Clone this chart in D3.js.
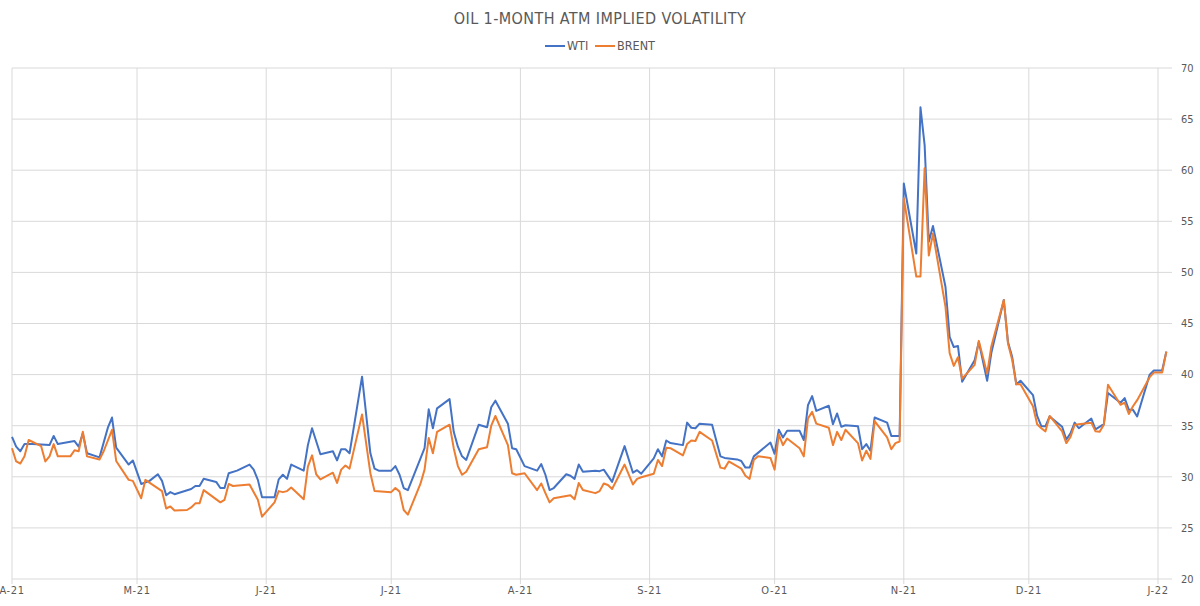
<!DOCTYPE html>
<html lang="en">
<head>
<meta charset="UTF-8">
<title>Oil 1-Month ATM Implied Volatility</title>
<script src="https://d3js.org/d3.v7.min.js"></script>
<style>
    body {
        margin: 0;
        background: #ffffff;
    }
    svg text {
        font-family: "DejaVu Sans Condensed", "Roboto", sans-serif;
        fill: #595959;
    }
    .grid line {
        stroke: #d9d9d9;
        stroke-width: 1;
    }
    .series {
        fill: none;
        stroke-width: 2;
        stroke-linejoin: round;
    }
</style>
</head>
<body>
<div id="chart"></div>
<script>
// ---- data ----
const wtiDates = [
    "2021-04-01","2021-04-02","2021-04-03","2021-04-04","2021-04-06","2021-04-10","2021-04-11","2021-04-12",
    "2021-04-16","2021-04-17","2021-04-18","2021-04-19","2021-04-22","2021-04-24","2021-04-25","2021-04-26",
    "2021-04-29","2021-04-30","2021-05-02","2021-05-04","2021-05-06","2021-05-07","2021-05-08","2021-05-09",
    "2021-05-10","2021-05-14","2021-05-15","2021-05-16","2021-05-17","2021-05-20","2021-05-21","2021-05-22",
    "2021-05-23","2021-05-25","2021-05-28","2021-05-29","2021-05-30","2021-05-31","2021-06-03","2021-06-04",
    "2021-06-05","2021-06-06","2021-06-07","2021-06-10","2021-06-11","2021-06-12","2021-06-14","2021-06-17",
    "2021-06-18","2021-06-19","2021-06-20","2021-06-21","2021-06-24","2021-06-26","2021-06-27","2021-06-28",
    "2021-07-01","2021-07-02","2021-07-03","2021-07-04","2021-07-05","2021-07-09","2021-07-10","2021-07-11",
    "2021-07-12","2021-07-15","2021-07-16","2021-07-17","2021-07-18","2021-07-19","2021-07-22","2021-07-24",
    "2021-07-25","2021-07-26","2021-07-29","2021-07-30","2021-07-31","2021-08-02","2021-08-05","2021-08-06",
    "2021-08-07","2021-08-08","2021-08-09","2021-08-12","2021-08-13","2021-08-14","2021-08-15","2021-08-16",
    "2021-08-19","2021-08-20","2021-08-21","2021-08-23","2021-08-26","2021-08-28","2021-08-29","2021-08-30",
    "2021-09-02","2021-09-03","2021-09-04","2021-09-05","2021-09-06","2021-09-09","2021-09-10","2021-09-11",
    "2021-09-12","2021-09-13","2021-09-16","2021-09-18","2021-09-19","2021-09-22","2021-09-23","2021-09-24",
    "2021-09-25","2021-09-26","2021-09-30","2021-10-01","2021-10-02","2021-10-03","2021-10-04","2021-10-07",
    "2021-10-08","2021-10-09","2021-10-10","2021-10-11","2021-10-14","2021-10-15","2021-10-16","2021-10-17",
    "2021-10-18","2021-10-21","2021-10-22","2021-10-23","2021-10-24","2021-10-25","2021-10-28","2021-10-29",
    "2021-10-31","2021-11-01","2021-11-04","2021-11-05","2021-11-06","2021-11-07","2021-11-08","2021-11-11",
    "2021-11-12","2021-11-13","2021-11-14","2021-11-15","2021-11-18","2021-11-19","2021-11-21","2021-11-22",
    "2021-11-25","2021-11-26","2021-11-27","2021-11-28","2021-11-29","2021-12-02","2021-12-03","2021-12-04",
    "2021-12-05","2021-12-06","2021-12-09","2021-12-10","2021-12-11","2021-12-12","2021-12-13","2021-12-16",
    "2021-12-17","2021-12-19","2021-12-20","2021-12-23","2021-12-24","2021-12-25","2021-12-26","2021-12-27",
    "2021-12-30","2021-12-31","2022-01-02","2022-01-03"
];
const wtiValues = [
    33.9, 32.95, 32.5, 33.2, 33.2, 33.1, 34.0, 33.2,
    33.5, 32.95, 34.25, 32.3, 31.9, 34.8, 35.8, 32.85,
    31.2, 31.6, 29.3, 29.6, 30.25, 29.6, 28.2, 28.5,
    28.3, 28.8, 29.1, 29.1, 29.8, 29.5, 28.9, 28.9,
    30.35, 30.6, 31.2, 30.7, 29.7, 28.0, 28.0, 29.75,
    30.2, 29.8, 31.2, 30.6, 33.1, 34.75, 32.2, 32.5,
    31.6, 32.7, 32.7, 32.3, 39.8, 32.3, 30.8, 30.6,
    30.6, 31.05, 30.2, 28.9, 28.7, 32.8, 36.6, 34.75,
    36.7, 37.6, 34.4, 32.95, 32.0, 31.65, 35.1, 34.85,
    36.8, 37.45, 35.2, 32.8, 32.7, 31.05, 30.6, 31.25,
    30.2, 28.7, 28.9, 30.25, 30.1, 29.8, 31.2, 30.5,
    30.6, 30.55, 30.7, 29.5, 33.0, 30.4, 30.65, 30.3,
    31.8, 32.7, 32.0, 33.55, 33.3, 33.1, 35.3, 34.8,
    34.75, 35.2, 35.1, 32.0, 31.85, 31.7, 31.55, 30.9,
    30.9, 32.0, 33.35, 32.25, 34.6, 33.85, 34.5, 34.5,
    33.6, 37.0, 37.9, 36.45, 36.95, 35.15, 36.2, 34.9,
    35.05, 34.95, 32.7, 33.2, 32.55, 35.8, 35.3, 34.0,
    34.0, 58.7, 51.85, 66.15, 62.45, 53.0, 54.55, 48.6,
    43.7, 42.7, 42.8, 39.3, 41.4, 43.2, 39.4, 42.1,
    47.3, 43.2, 41.75, 39.05, 39.4, 38.0, 35.95, 34.95,
    34.95, 35.9, 34.9, 33.65, 34.25, 35.3, 34.75, 35.7,
    34.65, 35.15, 38.2, 37.25, 37.7, 36.55, 36.55, 35.9,
    40.0, 40.4, 40.4, 42.25
];

const brentDates = [
    "2021-04-01","2021-04-02","2021-04-03","2021-04-04","2021-04-05","2021-04-08","2021-04-09","2021-04-10",
    "2021-04-11","2021-04-12","2021-04-15","2021-04-16","2021-04-17","2021-04-18","2021-04-19","2021-04-22",
    "2021-04-23","2021-04-25","2021-04-26","2021-04-29","2021-04-30","2021-05-02","2021-05-03","2021-05-07",
    "2021-05-08","2021-05-09","2021-05-10","2021-05-13","2021-05-14","2021-05-15","2021-05-16","2021-05-17",
    "2021-05-21","2021-05-22","2021-05-23","2021-05-24","2021-05-28","2021-05-30","2021-05-31","2021-06-03",
    "2021-06-04","2021-06-05","2021-06-06","2021-06-07","2021-06-10","2021-06-11","2021-06-12","2021-06-13",
    "2021-06-14","2021-06-17","2021-06-18","2021-06-19","2021-06-20","2021-06-21","2021-06-24","2021-06-26",
    "2021-06-27","2021-07-01","2021-07-02","2021-07-03","2021-07-04","2021-07-05","2021-07-08","2021-07-09",
    "2021-07-10","2021-07-11","2021-07-12","2021-07-15","2021-07-16","2021-07-17","2021-07-18","2021-07-19",
    "2021-07-22","2021-07-24","2021-07-25","2021-07-26","2021-07-29","2021-07-30","2021-07-31","2021-08-02",
    "2021-08-05","2021-08-06","2021-08-07","2021-08-08","2021-08-09","2021-08-13","2021-08-14","2021-08-15",
    "2021-08-16","2021-08-19","2021-08-20","2021-08-21","2021-08-22","2021-08-23","2021-08-26","2021-08-28",
    "2021-08-29","2021-08-30","2021-09-02","2021-09-03","2021-09-04","2021-09-05","2021-09-06","2021-09-09",
    "2021-09-10","2021-09-11","2021-09-12","2021-09-13","2021-09-16","2021-09-18","2021-09-19","2021-09-20",
    "2021-09-23","2021-09-24","2021-09-25","2021-09-26","2021-09-27","2021-09-30","2021-10-01","2021-10-02",
    "2021-10-03","2021-10-04","2021-10-07","2021-10-08","2021-10-09","2021-10-10","2021-10-11","2021-10-14",
    "2021-10-15","2021-10-16","2021-10-17","2021-10-18","2021-10-21","2021-10-22","2021-10-23","2021-10-24",
    "2021-10-25","2021-10-28","2021-10-29","2021-10-30","2021-10-31","2021-11-01","2021-11-04","2021-11-05",
    "2021-11-06","2021-11-07","2021-11-08","2021-11-11","2021-11-12","2021-11-13","2021-11-14","2021-11-15",
    "2021-11-18","2021-11-19","2021-11-21","2021-11-22","2021-11-25","2021-11-26","2021-11-27","2021-11-28",
    "2021-11-29","2021-12-02","2021-12-03","2021-12-04","2021-12-05","2021-12-06","2021-12-09","2021-12-10",
    "2021-12-11","2021-12-12","2021-12-16","2021-12-17","2021-12-18","2021-12-19","2021-12-20","2021-12-23",
    "2021-12-24","2021-12-25","2021-12-26","2021-12-27","2021-12-30","2021-12-31","2022-01-02","2022-01-03"
];
const brentValues = [
    32.8, 31.5, 31.3, 32.0, 33.6, 33.0, 31.5, 32.0,
    33.2, 32.0, 32.0, 32.6, 32.5, 34.4, 32.0, 31.7,
    32.5, 34.6, 31.55, 29.7, 29.6, 27.9, 29.7, 28.6,
    26.9, 27.1, 26.7, 26.75, 27.0, 27.4, 27.4, 28.7,
    27.5, 27.75, 29.3, 29.1, 29.25, 27.75, 26.1, 27.5,
    28.6, 28.5, 28.6, 28.95, 27.8, 31.0, 32.1, 30.25,
    29.75, 30.4, 29.4, 30.7, 31.1, 30.8, 36.1, 30.35,
    28.6, 28.5, 28.9, 28.55, 26.75, 26.3, 29.3, 30.7,
    33.8, 32.3, 34.4, 35.1, 32.8, 31.05, 30.2, 30.5,
    32.7, 32.9, 35.0, 35.95, 33.1, 30.35, 30.2, 30.35,
    28.7, 29.35, 28.4, 27.5, 27.9, 28.2, 27.8, 29.4,
    28.7, 28.4, 28.6, 29.35, 29.2, 28.8, 31.2, 29.25,
    29.8, 29.95, 30.3, 31.65, 31.05, 32.85, 32.8, 32.1,
    33.2, 33.55, 33.5, 34.4, 33.55, 30.9, 30.8, 31.5,
    30.8, 30.1, 29.8, 31.65, 32.0, 31.85, 30.7, 34.15,
    33.1, 33.75, 32.8, 32.0, 35.7, 36.35, 35.2, 34.8,
    33.1, 34.4, 33.6, 34.6, 33.3, 31.6, 32.55, 31.75,
    35.45, 33.85, 32.7, 33.3, 33.45, 57.25, 49.6, 49.6,
    60.2, 51.65, 53.8, 46.65, 42.1, 40.85, 41.7, 39.6,
    40.95, 43.3, 40.1, 42.75, 47.3, 43.05, 41.45, 39.05,
    39.05, 36.9, 35.15, 34.75, 34.45, 35.95, 34.45, 33.3,
    33.9, 35.1, 35.3, 34.45, 34.4, 35.1, 39.0, 37.05,
    37.25, 36.15, 36.9, 37.5, 39.75, 40.2, 40.2, 42.25
];

const monthTicks = ["2021-04-01","2021-05-01","2021-06-01","2021-07-01","2021-08-01","2021-09-01",
                    "2021-10-01","2021-11-01","2021-12-01","2022-01-01"];
const monthLabels = ["A-21","M-21","J-21","J-21","A-21","S-21","O-21","N-21","D-21","J-22"];
const yTicks = [20, 25, 30, 35, 40, 45, 50, 55, 60, 65, 70];

const seriesNames = ["WTI", "BRENT"];
const seriesColors = ["#4472C4", "#ED7D31"];

// ---- layout ----
const width = 1200, height = 606;
const plotLeft = 12, plotRight = 1172, plotTop = 68, plotBottom = 579;

const parse = d3.timeParse("%Y-%m-%d");

const x = d3.scaleTime()
    .domain([parse("2021-04-01"), parse("2022-01-01")])
    .range([12, 1158]);

const y = d3.scaleLinear()
    .domain([20, 70])
    .range([plotBottom, plotTop]);

const svg = d3.select("#chart").append("svg")
    .attr("width", width)
    .attr("height", height);

// horizontal gridlines
svg.append("g").attr("class", "grid")
    .selectAll("line")
    .data(yTicks)
    .join("line")
    .attr("x1", plotLeft)
    .attr("x2", plotRight)
    .attr("y1", d => y(d))
    .attr("y2", d => y(d));

// vertical gridlines at month starts
svg.append("g").attr("class", "grid")
    .selectAll("line")
    .data(monthTicks)
    .join("line")
    .attr("x1", d => x(parse(d)))
    .attr("x2", d => x(parse(d)))
    .attr("y1", plotTop)
    .attr("y2", plotBottom + 5);

// y axis labels (right side)
svg.append("g")
    .selectAll("text")
    .data(yTicks)
    .join("text")
    .attr("x", 1181)
    .attr("y", d => y(d))
    .attr("dy", "0.35em")
    .attr("font-size", 11)
    .text(d => d);

// x axis labels
svg.append("g")
    .selectAll("text")
    .data(monthTicks)
    .join("text")
    .attr("x", d => x(parse(d)))
    .attr("y", 594)
    .attr("text-anchor", "middle")
    .attr("font-size", 11)
    .attr("letter-spacing", 0.6)
    .text((d, i) => monthLabels[i]);

// lines
const line = d3.line()
    .x(d => x(d.date))
    .y(d => y(d.value));

const series = [
    wtiDates.map((d, i) => ({ date: parse(d), value: wtiValues[i] })),
    brentDates.map((d, i) => ({ date: parse(d), value: brentValues[i] }))
];

// BRENT drawn on top, as in the reference
[0, 1].forEach(k => {
    svg.append("path")
        .attr("class", "series")
        .attr("stroke", seriesColors[k])
        .attr("d", line(series[k]));
});

// title
svg.append("text")
    .attr("x", 600)
    .attr("y", 24)
    .attr("text-anchor", "middle")
    .attr("font-size", 16)
    .attr("letter-spacing", 0.4)
    .text("OIL 1-MONTH ATM IMPLIED VOLATILITY");

// legend
const legend = svg.append("g");
const legendX = [545, 595];
seriesNames.forEach((name, i) => {
    legend.append("line")
        .attr("x1", legendX[i])
        .attr("x2", legendX[i] + 20)
        .attr("y1", 46)
        .attr("y2", 46)
        .attr("stroke", seriesColors[i])
        .attr("stroke-width", 2);
    legend.append("text")
        .attr("x", legendX[i] + 22)
        .attr("y", 46)
        .attr("dy", "0.35em")
        .attr("font-size", 12.5)
        .text(name);
});
</script>
</body>
</html>
